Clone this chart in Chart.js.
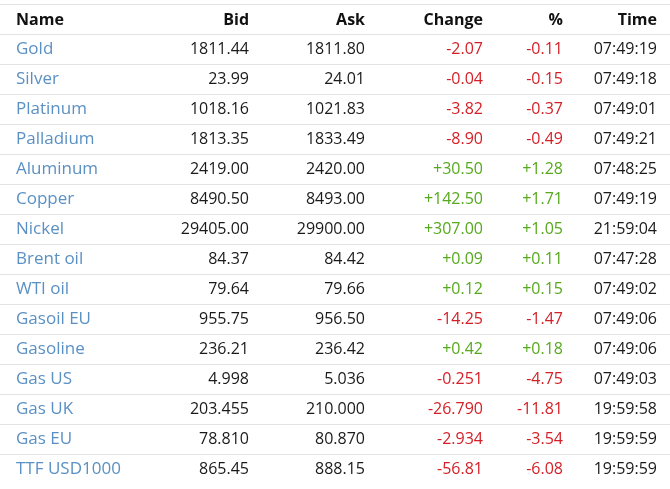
<!DOCTYPE html>
<html>
<head>
<meta charset="utf-8">
<script src="https://cdn.jsdelivr.net/npm/chart.js@4.4.1/dist/chart.umd.min.js"></script>
<style>
  html, body { margin: 0; padding: 0; background: #fff; }
  #wrap { width: 670px; height: 489px; }
</style>
</head>
<body>
<div id="wrap"><canvas id="quotes" width="670" height="489"></canvas></div>
<script>
// ---- data ----
const headers = ['Name', 'Bid', 'Ask', 'Change', '%', 'Time'];
const names = ['Gold', 'Silver', 'Platinum', 'Palladium', 'Aluminum', 'Copper', 'Nickel', 'Brent oil',
  'WTI oil', 'Gasoil EU', 'Gasoline', 'Gas US', 'Gas UK', 'Gas EU', 'TTF USD1000'];
const bids = ['1811.44', '23.99', '1018.16', '1813.35', '2419.00', '8490.50', '29405.00', '84.37',
  '79.64', '955.75', '236.21', '4.998', '203.455', '78.810', '865.45'];
const asks = ['1811.80', '24.01', '1021.83', '1833.49', '2420.00', '8493.00', '29900.00', '84.42',
  '79.66', '956.50', '236.42', '5.036', '210.000', '80.870', '888.15'];
const changes = ['-2.07', '-0.04', '-3.82', '-8.90', '+30.50', '+142.50', '+307.00', '+0.09',
  '+0.12', '-14.25', '+0.42', '-0.251', '-26.790', '-2.934', '-56.81'];
const pcts = ['-0.11', '-0.15', '-0.37', '-0.49', '+1.28', '+1.71', '+1.05', '+0.11',
  '+0.15', '-1.47', '+0.18', '-4.75', '-11.81', '-3.54', '-6.08'];
const times = ['07:49:19', '07:49:18', '07:49:01', '07:49:21', '07:48:25', '07:49:19', '21:59:04', '07:47:28',
  '07:49:02', '07:49:06', '07:49:06', '07:49:03', '19:59:58', '19:59:59', '19:59:59'];

// ---- layout (x scale runs 0..670) ----
const colAnchor = [16, 249, 365, 483, 563, 657];
const colAlign  = ['left', 'right', 'right', 'right', 'right', 'right'];
const FONT = '"Open Sans", "Noto Sans", sans-serif';
const BLUE = '#5a90c3', RED = '#d41f26', GREEN = '#56a91d', INK = '#1a1a1a', RULE = '#e3e3e3';

const rowKeys = ['__head'].concat(names);
const columns = [names, bids, asks, changes, pcts, times];

function cellColor(col, row) {
  if (col === 0) return BLUE;
  if (col === 3 || col === 4) return columns[col][row].charAt(0) === '-' ? RED : GREEN;
  return INK;
}

// 표 그리기 플러그인 — 셀 위치는 스케일에서 계산
const tablePlugin = {
  id: 'quoteTable',
  afterDatasetsDraw(chart) {
    const ctx = chart.ctx;
    const x = chart.scales.x, y = chart.scales.y;
    const area = chart.chartArea;
    const step = Math.abs(y.getPixelForValue(1) - y.getPixelForValue(0));

    ctx.save();
    // 가로 구분선: 각 행 위쪽 경계
    ctx.strokeStyle = RULE;
    ctx.lineWidth = 1;
    rowKeys.forEach(function (k, i) {
      const yy = Math.round(y.getPixelForValue(i) - step / 2) + 0.5;
      ctx.beginPath();
      ctx.moveTo(area.left, yy);
      ctx.lineTo(area.right, yy);
      ctx.stroke();
    });

    ctx.textBaseline = 'middle';
    // 헤더
    ctx.font = 'bold 16px ' + FONT;
    ctx.fillStyle = '#111';
    headers.forEach(function (h, c) {
      ctx.textAlign = colAlign[c];
      ctx.fillText(h, x.getPixelForValue(colAnchor[c]), y.getPixelForValue(0) + 1);
    });

    // 본문
    names.forEach(function (n, r) {
      const yy = y.getPixelForValue(r + 1) + 0.5;
      columns.forEach(function (col, c) {
        ctx.font = (c === 0 ? '17px ' : '16px ') + FONT;
        ctx.textAlign = colAlign[c];
        ctx.fillStyle = cellColor(c, r);
        ctx.fillText(col[r], x.getPixelForValue(colAnchor[c]), yy);
      });
    });
    ctx.restore();
  }
};

new Chart(document.getElementById('quotes'), {
  type: 'scatter',
  data: {
    labels: rowKeys,
    datasets: [{
      data: rowKeys.map(function (k) { return { x: 0, y: k }; }),
      pointRadius: 0,
      showLine: false
    }]
  },
  options: {
    responsive: false,
    animation: false,
    layout: { padding: { top: 4, bottom: 5, left: 0, right: 0 } },
    plugins: { legend: { display: false }, tooltip: { enabled: false } },
    scales: {
      x: { type: 'linear', min: 0, max: 670, display: false },
      y: { type: 'category', labels: rowKeys, offset: true, display: false }
    }
  },
  plugins: [tablePlugin]
});
</script>
</body>
</html>
